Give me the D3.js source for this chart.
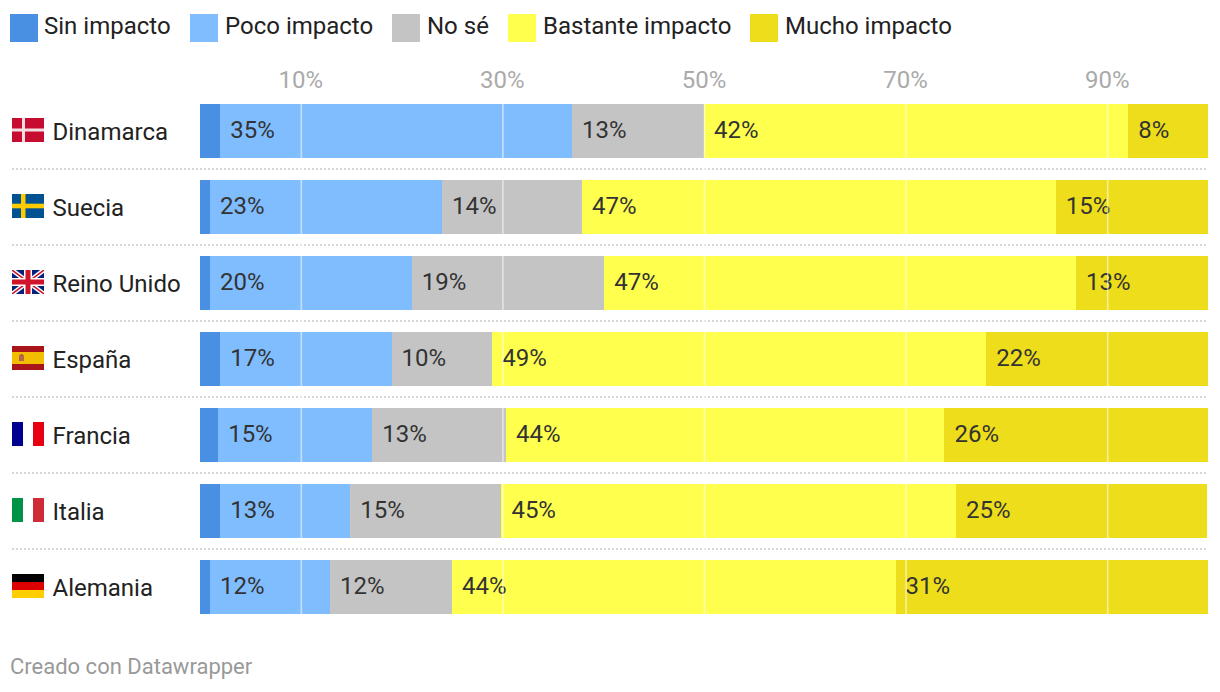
<!DOCTYPE html>
<html><head><meta charset="utf-8">
<script src="https://cdn.jsdelivr.net/npm/d3@7"></script>
<style>html,body{margin:0;padding:0;background:#fff}svg{display:block}text{font-family:Roboto,sans-serif}</style>
</head><body><svg id="c" width="1220" height="692"></svg>
<script>
const countries = ["Dinamarca","Suecia","Reino Unido","España","Francia","Italia","Alemania"];
const categories = ["Sin impacto","Poco impacto","No sé","Bastante impacto","Mucho impacto"];
const colors = ["#4a90e2","#80bdff","#c4c4c4","#ffff4d","#eedd1a"];
const sinImpacto = [2,1,1,2,1.8,2,1];
const pocoImpacto = [34.9,23,20,17,15.3,12.9,11.9];
const noSe = [13.1,13.9,19.1,10,13.25,15,12.1];
const bastante = [42.1,47,46.8,49,43.5,45.1,44];
const mucho = [7.9,15.1,13.1,22,26.15,24.9,31];
const tickValues = [10,30,50,70,90];
const series = [sinImpacto,pocoImpacto,noSe,bastante,mucho];
const legendLeft = [10,190,392,508,750];

const svg = d3.select("#c");
const x = d3.scaleLinear().domain([0,100]).range([200,1208]);
const y = d3.scaleBand().domain(countries).range([104,614]).paddingInner(22/76).paddingOuter(0).align(0);
const W = 32, H = 24;

// legend
const lg = svg.append("g").selectAll("g").data(categories).join("g")
  .attr("transform",(d,i)=>`translate(${legendLeft[i]},14)`);
lg.append("rect").attr("width",28).attr("height",28).attr("fill",(d,i)=>colors[i]);
lg.append("text").attr("x",(d,i)=>i==0?34:35).attr("y",20).attr("font-size",24).attr("fill","#222").text(d=>d);

// stacked bars
const rows = svg.append("g").selectAll("g").data(countries).join("g");
rows.each(function(c,r){
  let acc = 0;
  const g = d3.select(this);
  series.forEach((s,i)=>{
    g.append("rect").attr("x",x(acc)).attr("width",x(acc+s[r])-x(acc))
     .attr("y",y(c)).attr("height",y.bandwidth()).attr("fill",colors[i]).attr("shape-rendering","crispEdges");
    acc += s[r];
  });
});

// separators
svg.append("g").selectAll("line").data(countries.slice(0,-1)).join("line")
  .attr("x1",12).attr("x2",1208).attr("y1",d=>y(d)+y.bandwidth()+11).attr("y2",d=>y(d)+y.bandwidth()+11)
  .attr("stroke","#d6d6d6").attr("stroke-width",2).attr("stroke-dasharray","2 2");

// grid and ticks
svg.append("g").selectAll("line").data(tickValues).join("line")
  .attr("x1",d=>x(d)+.5).attr("x2",d=>x(d)+.5).attr("y1",104).attr("y2",y(countries[6])+y.bandwidth())
  .attr("stroke","#fff").attr("stroke-opacity",.55).attr("stroke-width",1.6);
svg.append("g").selectAll("text").data(tickValues).join("text")
  .attr("x",d=>x(d)).attr("y",88).attr("text-anchor","middle").attr("font-size",24).attr("fill","#aaa").text(d=>d+"%");

// value labels
rows.each(function(c,r){
  let acc = 0;
  const g = d3.select(this);
  series.forEach((s,i)=>{
    if(i>0) g.append("text").attr("x",x(acc)+10).attr("y",y(c)+y.bandwidth()/2+7)
      .attr("font-size",24).attr("fill","#333").text(Math.round(s[r])+"%");
    acc += s[r];
  });
});

// country labels
rows.append("text").attr("x",52.5).attr("y",c=>y(c)+36).attr("font-size",24).attr("fill","#222").text(d=>d);

// flags
const flags = {
  "Dinamarca": f=>{ r(f,0,0,W,H,"#c60c30"); r(f,10,0,3,H,"#f3dfe2"); r(f,0,10.5,W,3,"#f3dfe2"); },
  "Suecia": f=>{ r(f,0,0,W,H,"#005293"); r(f,9,0,4.5,H,"#fecb00"); r(f,0,9.7,W,4.6,"#fecb00"); },
  "Reino Unido": f=>{
    r(f,0,0,W,H,"#00247d");
    l(f,0,0,W,H,"#fff",4.5); l(f,W,0,0,H,"#fff",4.5);
    l(f,0,0,W,H,"#cf142b",1.5); l(f,W,0,0,H,"#cf142b",1.5);
    r(f,12,0,8,H,"#fff"); r(f,0,8,W,8,"#fff");
    r(f,13.5,0,5,H,"#cf142b"); r(f,0,9.5,W,5,"#cf142b");
  },
  "España": f=>{ r(f,0,0,W,H,"#aa151b"); r(f,0,6,W,12,"#f1bf00"); r(f,7,9,5,6,"#b5654a"); r(f,8.5,8,2,1.5,"#a8503c"); },
  "Francia": f=>{ r(f,0,0,11,H,"#00008f"); r(f,21,0,11,H,"#e60012"); },
  "Italia": f=>{ r(f,0,0,11,H,"#009246"); r(f,21,0,11,H,"#ce2b37"); },
  "Alemania": f=>{ r(f,0,0,W,8,"#000"); r(f,0,8,W,8,"#dd0000"); r(f,0,16,W,8,"#ffce00"); }
};
function r(f,a,b,w,h,c){ f.append("rect").attr("x",a).attr("y",b).attr("width",w).attr("height",h).attr("fill",c); }
function l(f,a,b,c,d,col,w){ f.append("line").attr("x1",a).attr("y1",b).attr("x2",c).attr("y2",d).attr("stroke",col).attr("stroke-width",w); }
svg.append("defs").append("clipPath").attr("id","fc").append("rect").attr("width",W).attr("height",H);
countries.forEach(c=>{
  const f = svg.append("g").attr("transform",`translate(12,${y(c)+14})`).attr("clip-path","url(#fc)");
  flags[c](f);
});

// footer
svg.append("text").attr("x",10).attr("y",674).attr("font-size",22).attr("fill","#999").text("Creado con Datawrapper");
</script></body></html>
